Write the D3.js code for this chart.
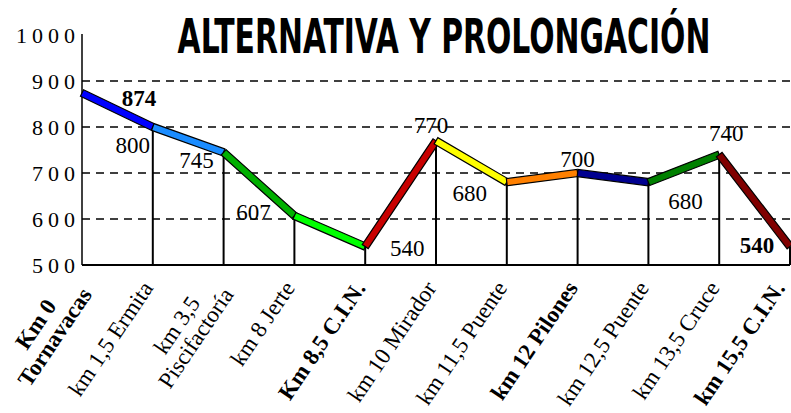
<!DOCTYPE html>
<html>
<head>
<meta charset="utf-8">
<script src="https://cdn.jsdelivr.net/npm/d3@7/dist/d3.min.js"></script>
<style>
  body { margin: 0; background: #fff; }
  svg { display: block; }
</style>
</head>
<body>
<div id="chart"></div>
<script>
const stations = [
  ['Km 0', 'Tornavacas'],
  ['km 1,5 Ermita'],
  ['km 3,5', 'Piscifactoría'],
  ['km 8 Jerte'],
  ['Km 8,5 C.I.N.'],
  ['km 10 Mirador'],
  ['km 11,5 Puente'],
  ['km 12 Pilones'],
  ['km 12,5 Puente'],
  ['km 13,5 Cruce'],
  ['km 15,5 C.I.N.']
];
const stationBold = [true, false, false, false, true, false, false, true, false, false, true];
const elevations = [874, 800, 745, 607, 540, 770, 680, 700, 680, 740, 540];
const valueBold = [true, false, false, false, false, false, false, false, false, false, true];
const yTicks = [500, 600, 700, 800, 900, 1000];
const gridValues = [600, 700, 800, 900];
const segmentColors = ['#0000ff', '#1a8cff', '#00b000', '#00ff00', '#c80000',
                       '#ffff00', '#ff8000', '#000090', '#008000', '#800000'];
const title = 'ALTERNATIVA Y PROLONGACIÓN';

const width = 791, height = 413;
const plotL = 82, plotR = 790, plotT = 35, plotB = 265;
const serif = '"Liberation Serif", "Times New Roman", serif';

const svg = d3.select('#chart').append('svg')
  .attr('width', width)
  .attr('height', height);

const x = d3.scalePoint()
  .domain(d3.range(stations.length))
  .range([plotL, plotR]);

const y = d3.scaleLinear()
  .domain([500, 1000])
  .range([plotB, plotT]);

// title, squeezed horizontally to the reference width
const titleText = svg.append('text')
  .attr('text-anchor', 'middle')
  .style('font-family', '"DejaVu Sans Condensed", "DejaVu Sans", sans-serif')
  .attr('font-weight', 'bold')
  .attr('font-size', 48)
  .text(title);
const sx = 533 / titleText.node().getComputedTextLength();
titleText.attr('transform', `translate(444,53) scale(${sx},1)`);

// dashed grid
svg.append('g').selectAll('line')
  .data(gridValues)
  .join('line')
  .attr('x1', plotL).attr('x2', width)
  .attr('y1', d => y(d)).attr('y2', d => y(d))
  .attr('stroke', '#000')
  .attr('stroke-width', 1.4)
  .attr('stroke-dasharray', '8,6');

// y axis labels
svg.append('g').selectAll('text')
  .data(yTicks)
  .join('text')
  .attr('x', 80)
  .attr('y', d => y(d))
  .attr('dy', '0.36em')
  .attr('text-anchor', 'end')
  .style('font-family', serif)
  .attr('font-size', 22)
  .attr('letter-spacing', 5)
  .text(d => d);

// drop lines
svg.append('g').selectAll('line')
  .data(elevations.slice(1))
  .join('line')
  .attr('x1', (d, i) => x(i + 1)).attr('x2', (d, i) => x(i + 1))
  .attr('y1', d => y(d)).attr('y2', plotB)
  .attr('stroke', '#000')
  .attr('stroke-width', 2);

// axes
svg.append('line')
  .attr('x1', plotL).attr('x2', plotL)
  .attr('y1', plotT - 1).attr('y2', plotB)
  .attr('stroke', '#000').attr('stroke-width', 1.5);
svg.append('line')
  .attr('x1', plotL).attr('x2', plotR)
  .attr('y1', plotB).attr('y2', plotB)
  .attr('stroke', '#000').attr('stroke-width', 2);

// coloured segments, drawn as outlined bands
const hw = 3.6;
const segs = d3.range(elevations.length - 1).map(i => {
  const x0 = x(i), y0 = y(elevations[i]);
  const x1 = x(i + 1), y1 = y(elevations[i + 1]);
  const len = Math.hypot(x1 - x0, y1 - y0);
  const nx = -(y1 - y0) / len * hw, ny = (x1 - x0) / len * hw;
  return [[x0 + nx, y0 + ny], [x1 + nx, y1 + ny], [x1 - nx, y1 - ny], [x0 - nx, y0 - ny]];
});
svg.append('g').selectAll('path')
  .data(segs)
  .join('path')
  .attr('d', d => d3.line()(d) + 'Z')
  .attr('fill', (d, i) => segmentColors[i])
  .attr('stroke', '#000')
  .attr('stroke-width', 1.2)
  .attr('stroke-linejoin', 'miter');

// value labels
const valueOffsets = [[57, 13], [-20, 26], [-27, 16], [-41, 4], [42, 9], [-5, -8],
                      [-37, 19], [0, -6], [37, 27], [7, -14], [-33, 6]];
svg.append('g').selectAll('text')
  .data(elevations)
  .join('text')
  .attr('x', (d, i) => x(i) + valueOffsets[i][0])
  .attr('y', (d, i) => y(d) + valueOffsets[i][1])
  .attr('text-anchor', 'middle')
  .style('font-family', serif)
  .attr('font-size', 23)
  .attr('font-weight', (d, i) => valueBold[i] ? 'bold' : 'normal')
  .text(d => d);

// rotated category labels
const angle = -56;
const lineH = 23;
const cats = svg.append('g').selectAll('g')
  .data(stations)
  .join('g');

cats.each(function (lines, i) {
  const g = d3.select(this);
  const t = g.append('text')
    .style('font-family', serif)
    .attr('font-size', 23)
    .attr('font-weight', stationBold[i] ? 'bold' : 'normal')
    .attr('text-anchor', 'middle');
  const spans = lines.map((s, j) => t.append('tspan')
    .attr('y', (j - (lines.length - 1) / 2) * lineH)
    .attr('dy', '0.35em')
    .text(s));
  const maxLen = d3.max(spans, s => s.node().getComputedTextLength());
  spans.forEach(s => s.attr('x', -maxLen / 2 - 8));

  let tx = x(i) - 1;
  g.attr('transform', `translate(${tx},${plotB + 12}) rotate(${angle})`);
  const box = g.node().getBoundingClientRect();
  if (box.right > width - 1) {
    tx -= box.right - (width - 1);
    g.attr('transform', `translate(${tx},${plotB + 12}) rotate(${angle})`);
  }
});
</script>
</body>
</html>
